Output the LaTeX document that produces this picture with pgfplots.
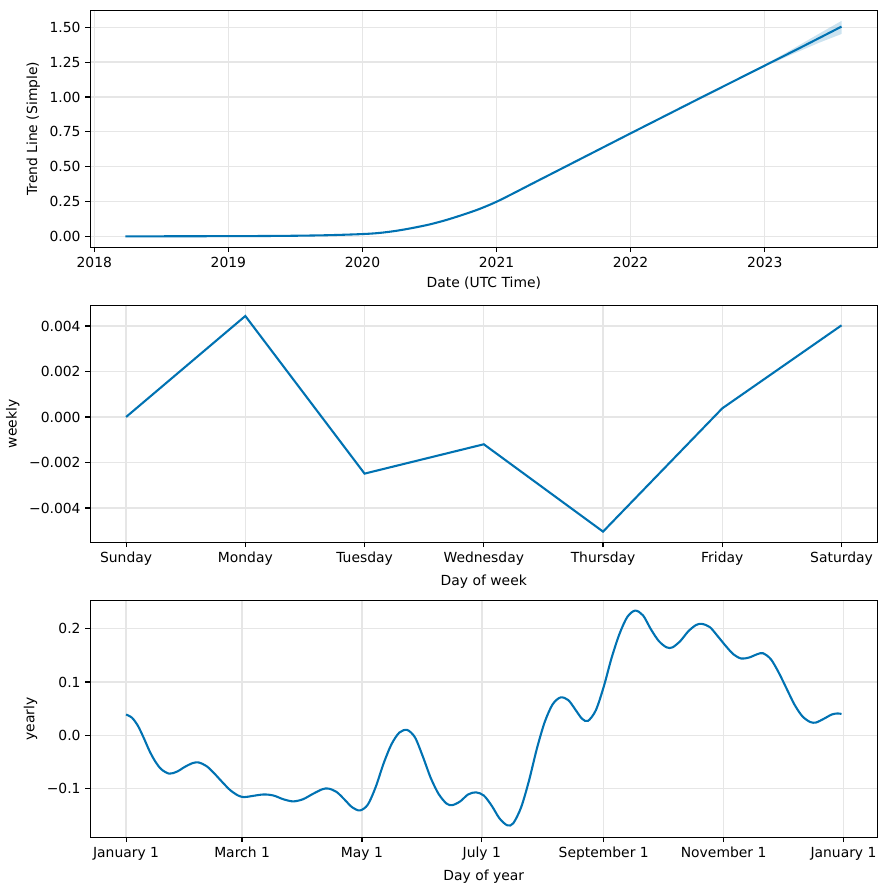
\documentclass[border=0pt]{standalone}
\usepackage{fontspec}
\setmainfont{DejaVu Sans}
\usepackage{pgfplots}
\pgfplotsset{compat=1.18}
\definecolor{pblue}{HTML}{0072B2}
\definecolor{gridgray}{HTML}{E6E6E6}

\pgfplotsset{prophet/.style={
    scale only axis, width=566.64pt, height=170.64pt,
    anchor=south west, enlargelimits=false,
    tick pos=left, tick align=outside, major tick length=3.5pt,
    tick style={black, line width=0.8pt},
    axis line style={line width=0.8pt},
    grid=major, major grid style={gridgray, line width=1pt},
    scaled ticks=false,
    cycle list={{pblue, line width=1.5pt, mark=none}},
}}

\begin{document}
\begin{tikzpicture}
\useasboundingbox (0,0) rectangle (637.92pt,640.8pt);

% trend
\begin{axis}[prophet, at={(65.02pt,462.74pt)},
    xmin=2017.97, xmax=2023.84, ymin=-0.079, ymax=1.622,
    xtick={2018,2019,2020,2021,2022,2023},
    xticklabels={2018,2019,2020,2021,2022,2023},
    ytick={0,0.25,0.5,0.75,1,1.25,1.5},
    yticklabels={0.00,0.25,0.50,0.75,1.00,1.25,1.50},
    xlabel={Date (UTC Time)}, ylabel={Trend Line (Simple)}]
  \addplot[draw=none, fill=pblue, fill opacity=0.2] coordinates {
    (2022.5,0.984) (2022.75,1.106) (2023.0,1.232) (2023.2,1.340) (2023.4,1.451) (2023.573,1.546)
    (2023.573,1.452) (2023.4,1.387) (2023.2,1.304) (2023.0,1.218) (2022.75,1.102) (2022.5,0.982)
  } -- cycle;
  \addplot[pblue, line width=1.5pt, smooth] coordinates {
    (2018.231,0.000) (2018.5,0.000) (2019.0,0.001) (2019.25,0.002) (2019.5,0.004)
    (2019.75,0.008) (2020.0,0.016) (2020.125,0.024) (2020.25,0.039) (2020.375,0.060)
    (2020.5,0.085) (2020.625,0.117) (2020.75,0.155) (2020.875,0.197) (2021.0,0.248)
    (2021.125,0.308) (2021.25,0.370) (2021.5,0.493) (2021.75,0.616) (2022.0,0.739)
    (2022.25,0.861) (2022.5,0.983) (2022.75,1.104) (2023.0,1.225) (2023.25,1.346)
    (2023.573,1.505)
  };
\end{axis}

% weekly
\begin{axis}[prophet, at={(65.02pt,250.34pt)},
    xmin=-0.3, xmax=6.3, ymin=-0.00551, ymax=0.00491,
    xtick={0,1,2,3,4,5,6},
    xticklabels={Sunday,Monday,Tuesday,Wednesday,Thursday,Friday,Saturday},
    ytick={-0.004,-0.002,0,0.002,0.004},
    yticklabels={−0.004,−0.002,0.000,0.002,0.004},
    xlabel={Day of week}, ylabel={weekly}]
  \addplot[pblue, line width=1.5pt, mark=none] coordinates {
    (0,0.00000) (1,0.00444) (2,-0.00249) (3,-0.00120) (4,-0.00504) (5,0.00038) (6,0.00403)
  };
\end{axis}

% yearly
\begin{axis}[prophet, at={(65.02pt,37.94pt)},
    xmin=-18.2, xmax=382.2, ymin=-0.1914, ymax=0.2533,
    xtick={0,59,120,181,243,304,365},
    xticklabels={January 1,March 1,May 1,July 1,September 1,November 1,January 1},
    ytick={-0.1,0,0.1,0.2},
    yticklabels={−0.1,0.0,0.1,0.2},
    xlabel={Day of year}, ylabel={yearly}]
  \addplot[pblue, line width=1.5pt, smooth] coordinates {
    (0,0.039) (3,0.033) (6,0.018) (9,-0.005) (12,-0.030) (15,-0.050) (18,-0.064)
    (22,-0.072) (26,-0.068) (30,-0.059) (34,-0.052) (37,-0.051) (41,-0.058) (45,-0.072)
    (49,-0.088) (53,-0.103) (57,-0.113) (60,-0.116) (64,-0.114) (70,-0.111) (75,-0.113)
    (80,-0.120) (85,-0.124) (90,-0.120) (95,-0.110) (100,-0.101) (103,-0.100) (107,-0.106)
    (111,-0.120) (115,-0.135) (119,-0.141) (123,-0.130) (127,-0.097) (131,-0.053) (135,-0.017)
    (139,0.005) (143,0.010) (147,-0.004) (151,-0.040) (155,-0.080) (159,-0.110) (163,-0.128)
    (166,-0.131) (170,-0.124) (174,-0.111) (178,-0.107) (182,-0.113) (186,-0.132) (190,-0.156)
    (194,-0.169) (197,-0.165) (201,-0.135) (205,-0.085) (209,-0.025) (213,0.025) (217,0.058)
    (221,0.071) (225,0.066) (229,0.046) (232,0.031) (235,0.027) (239,0.047) (243,0.091)
    (247,0.145) (251,0.190) (255,0.222) (259,0.234) (263,0.225) (267,0.199) (271,0.177)
    (275,0.165) (278,0.165) (282,0.177) (286,0.195) (290,0.207) (293,0.209) (297,0.203)
    (301,0.186) (305,0.168) (309,0.152) (313,0.144) (317,0.146) (321,0.152) (324,0.154)
    (328,0.143) (332,0.118) (336,0.088) (340,0.058) (344,0.036) (348,0.025) (351,0.024)
    (355,0.031) (359,0.039) (362,0.041) (364,0.040)
  };
\end{axis}
\end{tikzpicture}
\end{document}
